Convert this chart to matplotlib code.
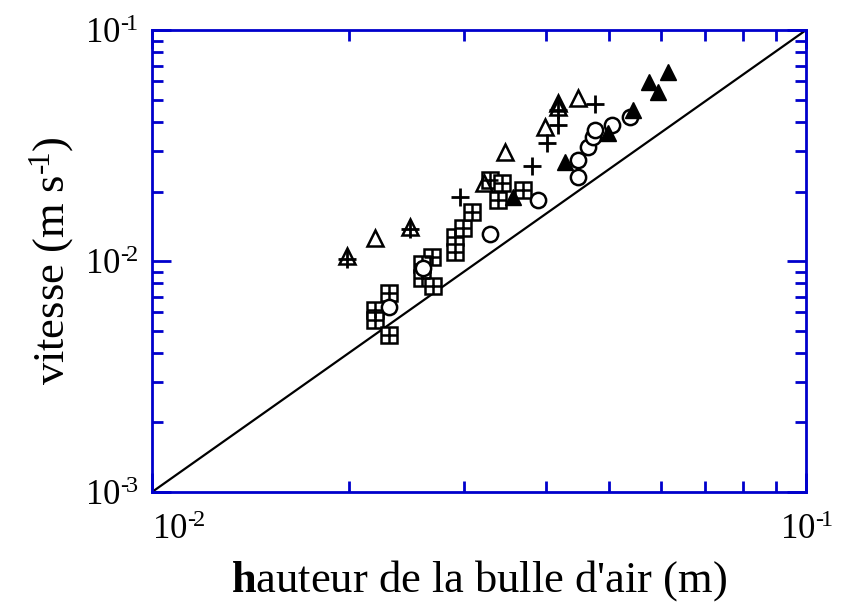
import numpy as np
import matplotlib.pyplot as plt
from matplotlib.ticker import LogLocator, FixedLocator, FixedFormatter, NullFormatter

plt.rcParams['font.family'] = 'Liberation Serif'
plt.rcParams['mathtext.fontset'] = 'custom'
plt.rcParams['mathtext.rm'] = 'Liberation Serif'
plt.rcParams['mathtext.it'] = 'Liberation Serif:italic'
plt.rcParams['mathtext.bf'] = 'Liberation Serif:bold'

# bubble height (m) / velocity (m/s), one pair of arrays per series
tri_open_h = [0.0199, 0.0219, 0.0248, 0.0322, 0.0347, 0.0399, 0.0418, 0.0418, 0.0448]
tri_open_v = [0.0105, 0.0126, 0.0140, 0.0218, 0.0296, 0.0380, 0.0464, 0.0483, 0.0508]

plus_h = [0.0199, 0.0248, 0.0296, 0.0381, 0.0402, 0.0418, 0.0418, 0.0476]
plus_v = [0.0102, 0.0138, 0.0189, 0.0258, 0.0324, 0.0388, 0.0451, 0.0478]

tri_fill_h = [0.0356, 0.0428, 0.0498, 0.0544, 0.0575, 0.0594, 0.0615]
tri_fill_v = [0.0189, 0.0268, 0.0358, 0.0451, 0.0596, 0.0539, 0.0658]

circ_h = [0.0230, 0.0260, 0.0329, 0.0389, 0.0448, 0.0448, 0.0464, 0.0472, 0.0476, 0.0505, 0.0538]
circ_v = [0.00632, 0.00933, 0.0131, 0.0184, 0.0231, 0.0274, 0.0312, 0.0344, 0.0369, 0.0388, 0.0420]

sq_h = [0.0219, 0.0219, 0.0230, 0.0230, 0.0268, 0.0259, 0.0259, 0.0269,
        0.0291, 0.0291, 0.0299, 0.0309, 0.0329, 0.0343, 0.0338, 0.0369]
sq_v = [0.00613, 0.00555, 0.00727, 0.00478, 0.0104, 0.0097, 0.00844, 0.00779,
        0.0127, 0.0109, 0.0139, 0.0163, 0.0224, 0.0218, 0.0184, 0.0203]

xtick_vals = [1e-2, 1e-1]
xtick_text = ['10$^{\u2010\\!2}$', '10$^{\u2010\\!1}$']
ytick_vals = [1e-3, 1e-2, 1e-1]
ytick_text = ['10$^{\u2010\\!3}$', '10$^{\u2010\\!2}$', '10$^{\u2010\\!1}$']

# reference law v = 10 h^2
line_h = np.array([0.01, 0.1])
line_v = 10 * line_h**2

fig = plt.figure(figsize=(8.46, 6.02), dpi=100)
ax = fig.add_axes([0.1797, 0.1827, 0.7730, 0.7673])

ax.plot(line_h, line_v, color='black', lw=1.6, zorder=1)

ax.plot(sq_h, sq_v, 's', ms=12, mfc='white', mec='black', mew=1.8, zorder=2)
ax.plot(sq_h, sq_v, '+', ms=12, mec='black', mew=1.8, zorder=2)
ax.plot(circ_h, circ_v, 'o', ms=11, mfc='white', mec='black', mew=1.8, zorder=3)
ax.plot(tri_open_h, tri_open_v, '^', ms=11, mfc='none', mec='black', mew=1.8, zorder=4)
ax.plot(plus_h, plus_v, '+', ms=13, mec='black', mew=2, zorder=4)
ax.plot(tri_fill_h, tri_fill_v, '^', ms=12, mfc='black', mec='black', mew=1, zorder=5)

ax.set_xscale('log')
ax.set_yscale('log')
ax.set_xlim(1e-2, 1e-1)
ax.set_ylim(1e-3, 1e-1)

blue = '#0000cc'
for s in ax.spines.values():
    s.set_color(blue)
    s.set_linewidth(2)

ax.xaxis.set_major_locator(FixedLocator(xtick_vals))
ax.xaxis.set_major_formatter(FixedFormatter(xtick_text))
ax.yaxis.set_major_locator(FixedLocator(ytick_vals))
ax.yaxis.set_major_formatter(FixedFormatter(ytick_text))
ax.xaxis.set_minor_locator(LogLocator(base=10, subs=np.arange(2, 10)))
ax.yaxis.set_minor_locator(LogLocator(base=10, subs=np.arange(2, 10)))
ax.xaxis.set_minor_formatter(NullFormatter())
ax.yaxis.set_minor_formatter(NullFormatter())

ax.tick_params(which='both', direction='in', top=True, right=True, color=blue,
               width=2, labelsize=25, labelcolor='black')
ax.tick_params(which='major', length=14)
ax.tick_params(which='minor', length=8)
ax.tick_params(axis='x', which='major', pad=16)
ax.tick_params(axis='y', which='major', pad=10)

ax.set_xlabel("$\\mathbf{h}$auteur de la bulle d'air (m)", fontsize=32, labelpad=8)
ax.set_ylabel('vitesse (m s$^{\u2010\\!1}$)', fontsize=32, labelpad=6)

fig.canvas.draw()
xl = ax.get_xticklabels()
xl[0].set_horizontalalignment('left')
xl[1].set_horizontalalignment('center')

fig.savefig('out.png', dpi=100)
